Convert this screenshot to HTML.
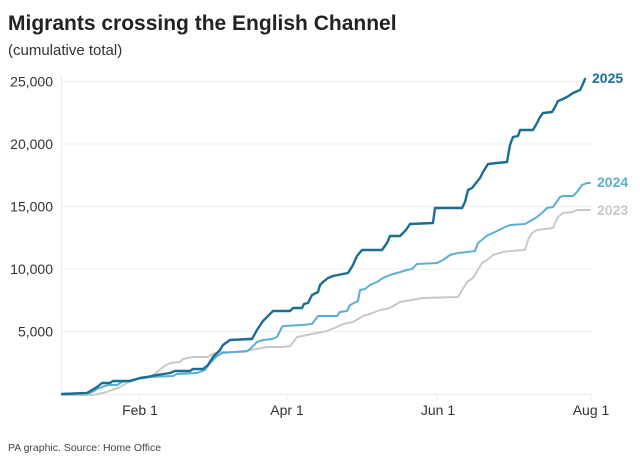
<!DOCTYPE html>
<html><head><meta charset="utf-8"><style>
html,body{margin:0;padding:0;background:#fff;}
body{width:640px;height:463px;overflow:hidden;}
svg{display:block;}
text{font-family:"Liberation Sans",Arial,sans-serif;}
</style></head><body>
<svg width="640" height="463" viewBox="0 0 640 463" xmlns="http://www.w3.org/2000/svg">
<rect width="640" height="463" fill="#fff"/>
<text x="8" y="30" font-size="21" font-weight="bold" fill="#222">Migrants crossing the English Channel</text>
<text x="8" y="55" font-size="15" fill="#333">(cumulative total)</text>
<g stroke="#ececec" stroke-width="1">
<line x1="61.5" y1="76" x2="61.5" y2="394"/>
<line x1="62" y1="81.5" x2="592" y2="81.5"/>
<line x1="62" y1="144" x2="592" y2="144"/>
<line x1="62" y1="206.5" x2="592" y2="206.5"/>
<line x1="62" y1="269" x2="592" y2="269"/>
<line x1="62" y1="331.5" x2="592" y2="331.5"/>
<line x1="62" y1="394.5" x2="592" y2="394.5"/>
<line x1="139.5" y1="395" x2="139.5" y2="400"/>
<line x1="286.5" y1="395" x2="286.5" y2="400"/>
<line x1="437.5" y1="395" x2="437.5" y2="400"/>
<line x1="590.5" y1="395" x2="590.5" y2="400"/>
</g>
<g font-size="14" fill="#333" text-anchor="end">
<text x="53" y="86.5">25,000</text>
<text x="53" y="149">20,000</text>
<text x="53" y="211.5">15,000</text>
<text x="53" y="274">10,000</text>
<text x="53" y="336.5">5,000</text>
</g>
<g font-size="14" fill="#333" text-anchor="middle">
<text x="140" y="415">Feb 1</text>
<text x="287" y="415">Apr 1</text>
<text x="438" y="415">Jun 1</text>
<text x="591" y="415">Aug 1</text>
</g>
<g fill="none" stroke-linejoin="round" stroke-linecap="round">
<polyline stroke="#c9c9c9" stroke-width="2" points="62,395 93,395 107,392 112,390 118,388 127,383 137,379 150,377 157,372 163,367 170,363 180,362 183,359 193,357 208,357 212,354 220,352 245,352 250,350 257,349 267,347 283,347 290,346 295,340 297,337 307,335 327,331 337,327 343,324 353,322 363,316 370,314 380,310 390,308 400,302 417,299 423,298 458,297 462,290 467,282 473,278 482,263 487,260 493,255 503,252 510,251 525,250 528,240 532,233 537,230 553,228 555,223 558,217 563,213 573,212 577,210 590,210"/>
<polyline stroke="#5bb0d2" stroke-width="2" points="62,394 90,393 94,391 97,389 102,387 108,385 117,385 122,382 137,379 150,377 173,376 177,374 197,373 205,370 210,363 217,356 222,353 247,351 250,349 257,342 263,340 272,339 277,337 282,327 283,326 302,325 312,324 318,316 337,316 340,312 347,311 350,305 358,301 360,290 365,289 370,285 377,282 383,278 390,275 397,273 407,270 412,269 417,264 437,263 443,260 450,255 458,253 467,252 475,251 478,243 483,239 488,235 495,232 503,228 510,225 525,224 532,220 537,217 543,212 547,208 553,207 560,197 563,196 573,196 577,192 582,185 587,183 590,183"/>
<polyline stroke="#1a6d93" stroke-width="2.4" points="62,394 87,393 92,390 97,387 102,383 110,383 113,381 130,381 140,378 147,377 157,375 170,373 175,371 190,371 193,369 203,369 208,365 213,357 220,350 223,345 230,340 250,339 252,339 257,330 263,321 268,316 273,311 290,311 293,308 302,308 304,304 308,303 312,295 318,292 320,285 323,282 328,278 333,276 338,275 348,273 353,265 357,256 362,250 382,250 387,243 390,236 400,236 406,230 410,224 433,223 435,208 462,208 465,202 468,190 472,188 480,178 483,172 488,164 497,163 507,162 510,145 513,137 518,136 520,130 533,130 537,123 540,117 543,113 552,112 555,107 558,101 563,99 567,97 573,93 580,90 582,86 585,79"/>
</g>
<g font-size="14" font-weight="bold">
<text x="592" y="83" fill="#1a6d93">2025</text>
<text x="597" y="187" fill="#5bb0d2">2024</text>
<text x="597" y="215" fill="#c9c9c9">2023</text>
</g>
<text x="8" y="451" font-size="10.5" fill="#444">PA graphic. Source: Home Office</text>
</svg>
</body></html>
